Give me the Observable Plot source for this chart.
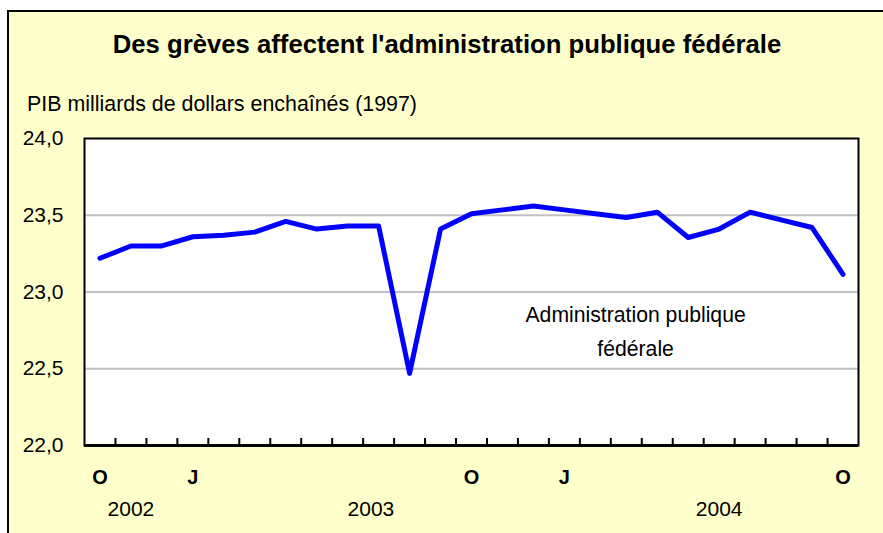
<!DOCTYPE html>
<html>
<head>
<meta charset="utf-8">
<script src="https://cdn.jsdelivr.net/npm/d3@7"></script>
<script src="https://cdn.jsdelivr.net/npm/@observablehq/plot@0.6"></script>
<style>
  html, body { margin: 0; padding: 0; background: #ffffff; overflow: hidden; }
  #wrap { position: relative; width: 883px; height: 533px; overflow: hidden;
          font-family: "Liberation Sans", Arial, sans-serif; color: #000; }
  #frame { position: absolute; left: 7px; top: 10px; width: 900px; height: 600px;
           background: #FFFFCC; border: 2px solid #000; }
  #header { position: relative; height: 120px; }
  #title { position: absolute; left: 7px; width: 880px; top: 32px; text-align: center;
           font-weight: bold; font-size: 25.7px; line-height: 25px; white-space: nowrap; }
  #sub { position: absolute; left: 27px; top: 92px; font-size: 21.4px; line-height: 25px; white-space: nowrap; }
  #chart { position: relative; }
</style>
</head>
<body>
<div id="wrap">
  <div id="frame"></div>
  <div id="header">
    <div id="title">Des grèves affectent l'administration publique fédérale</div>
    <div id="sub">PIB milliards de dollars enchaînés (1997)</div>
  </div>
  <div id="chart"></div>
</div>
<script>
// Months from October 2002 to October 2004 (index 0..24)
const months = ["O","N","D","J","F","M","A","M","J","J","A","S",
                "O","N","D","J","F","M","A","M","J","J","A","S","O"];
const values = [23.22, 23.30, 23.30, 23.36, 23.37, 23.39, 23.46, 23.41, 23.43, 23.43,
                22.47, 23.41, 23.51, 23.535, 23.56, 23.535, 23.51, 23.485, 23.52, 23.355,
                23.41, 23.52, 23.47, 23.42, 23.115];
const monthLabelIdx = [0, 3, 12, 15, 24];
const yearLabels = ["2002", "2003", "2004"];
const yearPos = [1, 8.75, 20];
const yTicks = [22.0, 22.5, 23.0, 23.5, 24.0];
const gridValues = [22.5, 23.0, 23.5];
const annotationLines = ["Administration publique", "fédérale"];
const annotationX = [17.3, 17.3];
const annotationY = [22.85, 22.628];

const series = values.map((v, i) => ({i, v, m: months[i]}));
const monthTable = monthLabelIdx.map(i => ({i, l: months[i]}));
const yearTable = yearLabels.map((l, k) => ({i: yearPos[k], l}));
const annTable = annotationLines.map((l, k) => ({x: annotationX[k], y: annotationY[k], l}));
const boundaries = d3.range(0.5, 24, 1);

const chart = Plot.plot({
  width: 883,
  height: 413,
  marginLeft: 84,
  marginRight: 25,
  marginTop: 18,
  marginBottom: 88,
  style: {background: "transparent", fontFamily: "Liberation Sans, Arial, sans-serif", fontSize: "21px", color: "#000", overflow: "visible"},
  x: {type: "linear", domain: [-0.5, 24.5]},
  y: {domain: [22, 24]},
  marks: [
    Plot.frame({fill: "#ffffff", stroke: null}),
    Plot.ruleY(gridValues, {stroke: "#c0c0c0", strokeWidth: 2}),
    Plot.frame({stroke: "#000", strokeWidth: 2}),
    Plot.ruleY([22], {stroke: "#000", strokeWidth: 3}),
    Plot.axisY({ticks: yTicks, tickSize: 0, tickPadding: 21, fontSize: 21,
                tickFormat: d => d.toFixed(1).replace(".", ","), label: null}),
    Plot.axisX({ticks: boundaries, tickSize: -7, strokeWidth: 2, tickFormat: () => "", label: null}),
    Plot.text(monthTable, {x: "i", text: "l", frameAnchor: "bottom", lineAnchor: "middle", dy: 32, fontWeight: "bold", fontSize: 20}),
    Plot.text(yearTable, {x: "i", text: "l", frameAnchor: "bottom", lineAnchor: "middle", dy: 64, fontSize: 21}),
    Plot.text(annTable, {x: "x", y: "y", text: "l", fontSize: 21.2}),
    Plot.line(series, {x: "i", y: "v", stroke: "#0000ff", strokeWidth: 5,
                       strokeLinejoin: "round", strokeLinecap: "round"})
  ]
});
document.getElementById("chart").appendChild(chart);
</script>
</body>
</html>
